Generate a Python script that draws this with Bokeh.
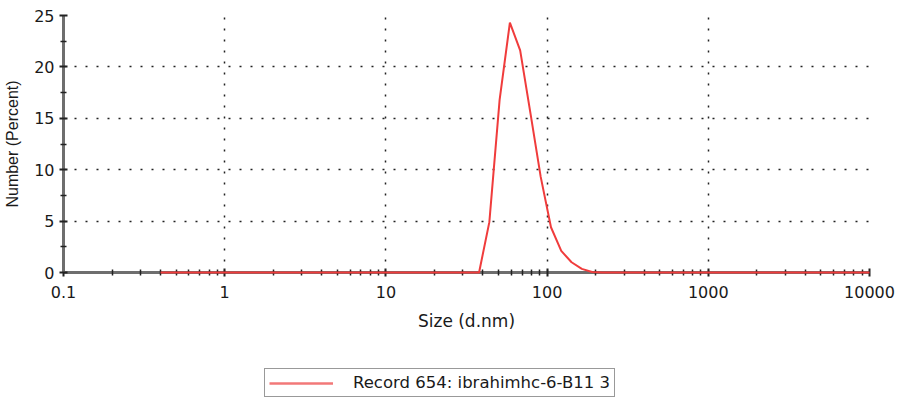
from bokeh.plotting import figure
from bokeh.layouts import column
from bokeh.models import FixedTicker, Legend, LegendItem
from bokeh.embed import file_html
from bokeh.resources import INLINE

# Size classes (d.nm)
size_nm = [0.4, 0.4632, 0.5365, 0.6213, 0.7195, 0.8332, 0.9649, 1.117, 1.294, 1.499,
           1.736, 2.01, 2.328, 2.696, 3.122, 3.615, 4.187, 4.849, 5.615, 6.503,
           7.531, 8.721, 10.1, 11.7, 13.54, 15.69, 18.17, 21.04, 24.36, 28.21,
           32.67, 37.84, 43.82, 50.75, 58.77, 68.06, 78.82, 91.28, 105.7, 122.4,
           141.8, 164.2, 190.1, 220.2, 255.0, 295.3, 342.0, 396.1, 458.7, 531.2,
           615.1, 712.4, 825.0, 955.4, 1106, 1281, 1484, 1718, 1990, 2305,
           2669, 3091, 3580, 4145, 4801, 5560, 6439, 7456, 8635, 10000]
# Number (Percent)
number_pct = [0, 0, 0, 0, 0, 0, 0, 0, 0, 0,
              0, 0, 0, 0, 0, 0, 0, 0, 0, 0,
              0, 0, 0, 0, 0, 0, 0, 0, 0, 0,
              0, 0, 4.9, 16.8, 24.3, 21.6, 15.5, 9.3, 4.4, 2.1,
              1.0, 0.35, 0.05, 0, 0, 0, 0, 0, 0, 0,
              0, 0, 0, 0, 0, 0, 0, 0, 0, 0,
              0, 0, 0, 0, 0, 0, 0, 0, 0, 0]
series_label = "Record 654: ibrahimhc-6-B11 3"

x_major = [0.1, 1, 10, 100, 1000, 10000]
x_labels = ["0.1", "1", "10", "100", "1000", "10000"]
x_minor = [m * d for d in [0.1, 1, 10, 100, 1000] for m in range(2, 10)]
y_major = [0, 5, 10, 15, 20, 25]
y_minor = [2.5, 7.5, 12.5, 17.5, 22.5]

HFONT = "DejaVu Sans"
VFONT = "Liberation Sans"
TEXT = "#1a1a1a"
LINE_COLOR = "#f03c3c"

p = figure(width=899, height=340, x_axis_type="log",
           x_range=(0.1, 10000), y_range=(0, 25),
           min_border_left=63, min_border_right=30, min_border_top=15,
           min_border_bottom=68, output_backend="svg", toolbar_location=None,
           background_fill_color="white", border_fill_color="white")
p.outline_line_color = None

r = p.line(size_nm, number_pct, line_color=LINE_COLOR, line_width=2)
r.level = "overlay"

p.xaxis.ticker = FixedTicker(ticks=x_major, minor_ticks=x_minor)
p.xaxis.major_label_overrides = {t: l for t, l in zip(x_major, x_labels)}
p.yaxis.ticker = FixedTicker(ticks=y_major, minor_ticks=y_minor)

for ax in (p.xaxis[0], p.yaxis[0]):
    ax.axis_line_color = "#6e6e6e"
    ax.axis_line_width = 3
    ax.major_tick_line_color = "#222222"
    ax.minor_tick_line_color = "#222222"
    ax.major_tick_line_width = 2
    ax.minor_tick_line_width = 1.5
    ax.major_tick_in = 4
    ax.major_tick_out = 4
    ax.minor_tick_in = 3
    ax.minor_tick_out = 3
    ax.major_label_text_font = HFONT
    ax.major_label_text_font_size = "16px"
    ax.major_label_text_color = TEXT
    ax.axis_label_text_font_style = "normal"
    ax.axis_label_text_color = TEXT

p.xaxis.axis_label = "Size (d.nm)"
p.xaxis.axis_label_text_font = HFONT
p.xaxis.axis_label_text_font_size = "17px"
p.yaxis.axis_label = "Number (Percent)"
p.yaxis.axis_label_text_font = VFONT
p.yaxis.axis_label_text_font_size = "16px"
p.xaxis.major_label_standoff = 9
p.xaxis.axis_label_standoff = 10
p.yaxis.major_label_standoff = 5
p.yaxis.axis_label_standoff = 10

p.xgrid.grid_line_color = "#222222"
p.ygrid.grid_line_color = "#222222"
p.xgrid.grid_line_dash = "2 9"
p.ygrid.grid_line_dash = "2 9"
p.xgrid.grid_line_width = 1.5
p.ygrid.grid_line_width = 1.5

# legend strip below the chart
lg = figure(width=899, height=58, x_axis_type="log",
            x_range=(0.1, 10000), y_range=(-20, -10),
            min_border_left=0, min_border_right=0, min_border_top=0,
            min_border_bottom=0, output_backend="svg", toolbar_location=None,
            background_fill_color="white", border_fill_color="white")
lg.outline_line_color = None
lg.axis.visible = False
lg.grid.visible = False
r2 = lg.line(size_nm, number_pct, line_color="#f27878", line_width=2.5)

legend = Legend(items=[LegendItem(label=series_label, renderers=[r2])],
                location=(201, 1), orientation="vertical",
                label_text_font=HFONT, label_text_font_size="16.5px",
                label_text_color=TEXT,
                glyph_width=64, glyph_height=16, label_height=16,
                label_standoff=20, padding=4, spacing=0, margin=0,
                border_line_color="#333333", border_line_width=1.5,
                background_fill_alpha=1.0)
lg.add_layout(legend, "center")

layout = column(p, lg, spacing=0)
open("out.html", "w").write(file_html(layout, INLINE))
